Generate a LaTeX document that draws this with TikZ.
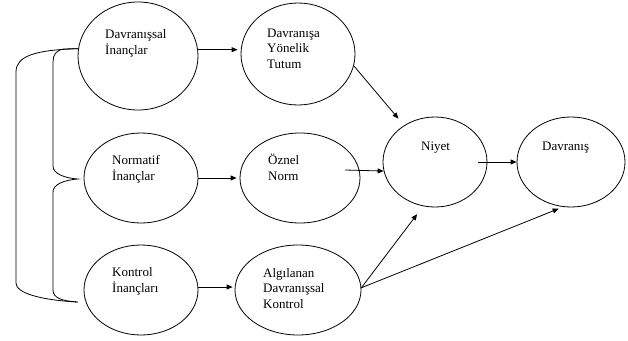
\documentclass[tikz,border=0pt]{standalone}
\usepackage{fontspec}
\setmainfont{Liberation Serif}
\usetikzlibrary{shapes.geometric,arrows.meta,calc}
\begin{document}
\begin{tikzpicture}[x=1pt,y=-1pt,
  ell/.style={draw,ellipse,inner sep=0pt,line width=0.8pt},
  lbl/.style={anchor=base west,inner sep=0pt,align=left,font=\fontsize{13}{15.5}\selectfont},
  arr/.style={line width=0.8pt,-{Triangle[length=6pt,width=5pt]}},
  brace/.style={line width=0.8pt}]
\useasboundingbox (0,0) rectangle (628,340);
\node[ell,minimum width=120pt,minimum height=108pt] (A) at (138,56) {};
\node[ell,minimum width=114pt,minimum height=102pt] (B) at (298,54) {};
\node[ell,minimum width=114pt,minimum height=90pt] (C) at (141,178) {};
\node[ell,minimum width=120pt,minimum height=90pt] (D) at (300,178) {};
\node[ell,minimum width=114pt,minimum height=90pt] (E) at (141,290) {};
\node[ell,minimum width=126pt,minimum height=90pt] (F) at (298,290) {};
\node[ell,minimum width=104pt,minimum height=90pt] (G) at (435,162) {};
\node[ell,minimum width=108pt,minimum height=90pt] (H) at (571,162) {};
% base anchor of a multi-line node is the baseline of its last line
\node[lbl] (tA) at (105,54) {Davranışsal\\İnançlar};
\node[lbl] (tB) at (267,68) {Davranışa\\Yönelik\\Tutum};
\node[lbl] (tC) at (112,180) {Normatif\\İnançlar};
\node[lbl] (tD) at (268,180) {Öznel\\Norm};
\node[lbl] (tE) at (112,292) {Kontrol\\İnançları};
\node[lbl] (tF) at (263,308) {Algılanan\\Davranışsal\\Kontrol};
\node[lbl] (tG) at (421,150) {Niyet};
\node[lbl] (tH) at (542,150) {Davranış};
\draw[arr,shorten >=3pt] (A.6) -- (A.6 -| B.west);
\draw[arr,shorten >=3pt] (C) -- (D);
\draw[arr,shorten >=2pt] (E.3) -- (E.3 -| F.west);
\draw[arr,shorten >=8.8pt] (B.-12) -- (G);
\draw[arr] ($(D.center)+(45,-8)$) -- (G.190);
\draw[arr] ($(G.center)+(43,0)$) -- (H.west);
\draw[arr,shorten >=10pt] (F.2) -- (G.255);
\draw[arr,shorten >=4.8pt] (F.2) -- (H.260);
\coordinate (bt) at (A.173);
\coordinate (bm) at ($(C.west)+(-6,1)$);
\coordinate (bb) at ($(E.west)+(-6,12)$);
\draw[brace] (bt) .. controls (35,50) and (16,56) .. (16,72) -- (16,283)
  .. controls (16,293) and (40,300) .. (bb);
\draw[brace] (bt) -- (64,49) .. controls (56,50) and (53,55) .. (53,62) -- (53,166)
  .. controls (53,174) and (65,178) .. (bm)
  .. controls (65,180) and (53,184) .. (53,192) -- (53,290)
  .. controls (53,298) and (62,301) .. (bb);
\end{tikzpicture}
\end{document}
